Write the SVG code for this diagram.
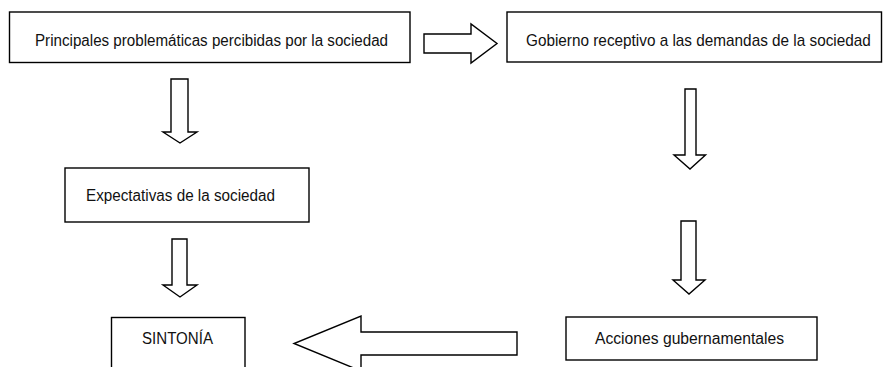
<svg xmlns="http://www.w3.org/2000/svg" width="883" height="367" viewBox="0 0 883 367">
<style>
.box{fill:#fff;stroke:#000;stroke-width:1.4}
.arr{fill:#fff;stroke:#000;stroke-width:1.4;stroke-linejoin:miter}
.t{font-family:"Liberation Sans Narrow","Arial Narrow","Liberation Sans",Arial,sans-serif;font-size:16px;fill:#111}
</style>
<rect width="883" height="367" fill="#fff"/>
<g id="connectors">
<polygon class="arr" points="171,79 188,79 188,132 197,132 180,143 163,132 171,132"/>
<polygon class="arr" points="424,34 471,34 471,24 497,43.5 471,63 471,53 424,53"/>
<polygon class="arr" points="685,89 696,89 696,155 705.5,155 690,169 674,155 685,155"/>
<polygon class="arr" points="172,239 187,239 187,285 197,285 180,297 163,285 172,285"/>
<polygon class="arr" points="681,221 696,221 696,280 705,280 689,294 673,280 681,280"/>
<polygon class="arr" points="517,332 361,332 361,316 294,343.5 361,371 361,355 517,355"/>
</g>
<g id="n1">
<rect class="box" x="9.5" y="12" width="400.5" height="50.5"/>
<text class="t" x="35" y="45.5" textLength="353" lengthAdjust="spacingAndGlyphs">Principales problemáticas percibidas por la sociedad</text>
</g>
<g id="n2">
<rect class="box" x="507" y="12" width="374.5" height="50"/>
<text class="t" transform="translate(526,46) scale(0.958,1)">Gobierno receptivo a las demandas de la sociedad</text>
</g>
<g id="n3">
<rect class="box" x="65" y="168" width="244" height="54"/>
<text class="t" x="86" y="200.5" textLength="189" lengthAdjust="spacingAndGlyphs">Expectativas de la sociedad</text>
</g>
<g id="n4">
<rect class="box" x="111.5" y="317.5" width="133.5" height="70"/>
<text class="t" x="142" y="344" textLength="71" lengthAdjust="spacingAndGlyphs">SINTONÍA</text>
</g>
<g id="n5">
<rect class="box" x="566" y="317" width="251" height="43"/>
<text class="t" x="595" y="344" textLength="189" lengthAdjust="spacingAndGlyphs">Acciones gubernamentales</text>
</g>
</svg>
